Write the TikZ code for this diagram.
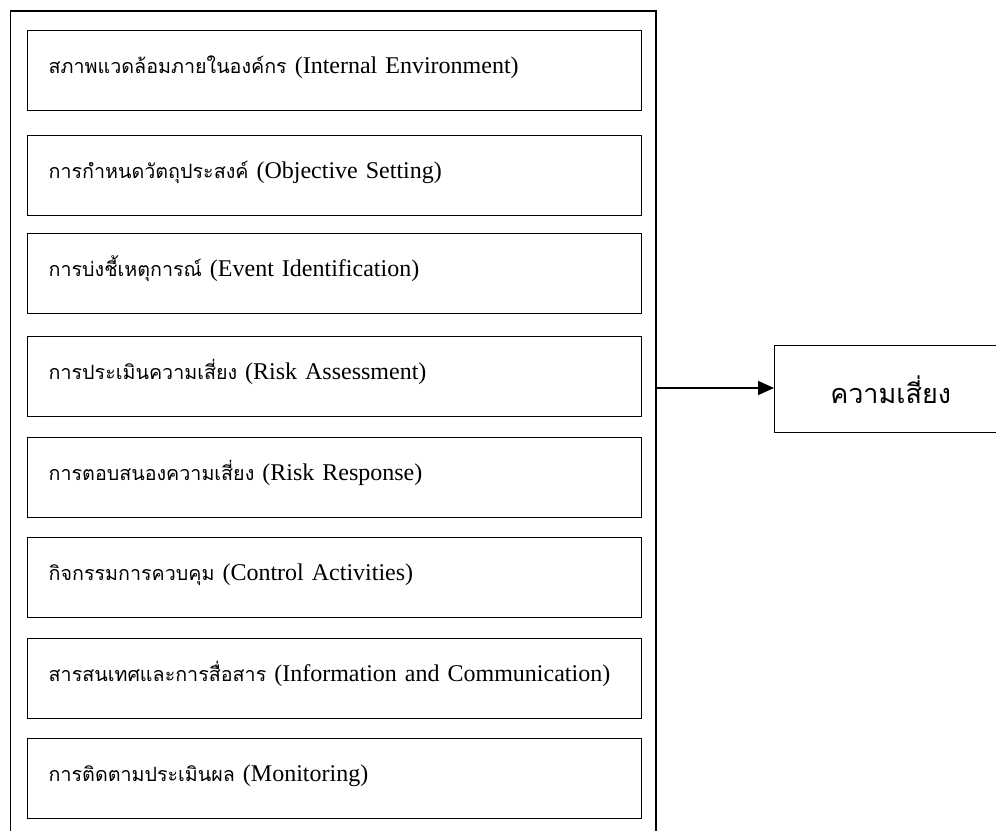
\documentclass[tikz,border=0pt]{standalone}
\usepackage{fontspec}
\setmainfont{Liberation Serif}
\newfontfamily\thaifont[Script=Thai,Scale=0.82]{Loma}
\newfontfamily\riskfont[Script=Thai]{Loma}
\usetikzlibrary{arrows.meta}

\tikzset{
  stage/.style={draw, line width=1.4pt, rectangle, anchor=north west,
    inner xsep=21pt, text width=572pt, align=left,
    minimum height=80pt, text height=21pt, text depth=15pt,
    font=\fontsize{24}{28}\selectfont},
}

\begin{document}
\begin{tikzpicture}[x=1pt, y=-1pt]
\useasboundingbox (0,0) rectangle (996,831);
% frame round the eight components
\draw[line width=1.3pt] (10.5,831) -- (10.5,11) -- (656,11) -- (656,831);
\coordinate (frameout) at (656,388);
\node[stage] (ie) at (27,30) {{\thaifont สภาพแวดล้อมภายในองค์กร} (Internal Environment)};
\node[stage] (os) at (27,135) {{\thaifont การกำหนดวัตถุประสงค์} (Objective Setting)};
\node[stage] (ei) at (27,233) {{\thaifont การบ่งชี้เหตุการณ์} (Event Identification)};
\node[stage] (ra) at (27,336) {{\thaifont การประเมินความเสี่ยง} (Risk Assessment)};
\node[stage] (rr) at (27,437) {{\thaifont การตอบสนองความเสี่ยง} (Risk Response)};
\node[stage] (ca) at (27,537) {{\thaifont กิจกรรมการควบคุม} (Control Activities)};
\node[stage] (ic) at (27,638) {{\thaifont สารสนเทศและการสื่อสาร} (Information and Communication)};
\node[stage] (mo) at (27,738) {{\thaifont การติดตามประเมินผล} (Monitoring)};
\node[draw, line width=1.4pt, rectangle, anchor=north west,
  minimum width=232pt, minimum height=87pt,
  font=\riskfont\fontsize{27}{30}\selectfont] (risk) at (774,345) {ความเสี่ยง};
\draw[line width=1.6pt, -{Triangle[length=16pt,width=14pt]}] (frameout) -- (frameout -| risk.west);
\end{tikzpicture}
\end{document}
